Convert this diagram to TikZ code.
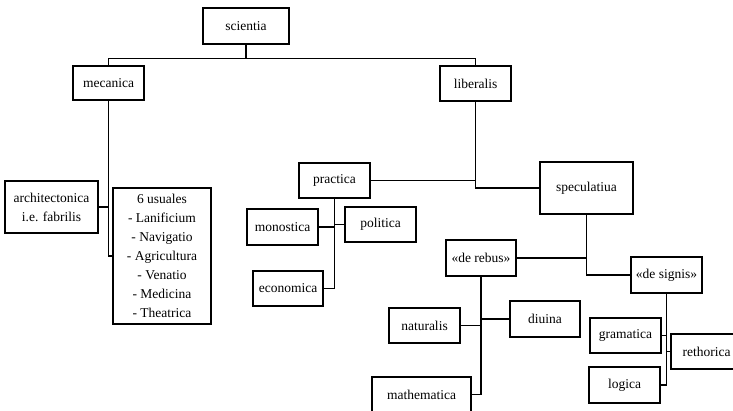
\documentclass[tikz,border=0pt]{standalone}
\usepackage{fontspec}
\setmainfont{Liberation Serif}

\begin{document}
\begin{tikzpicture}[
    x=1pt, y=-1pt,
    box/.style={draw, line width=1.3pt, minimum width=71pt, minimum height=35pt,
        inner sep=0pt, align=center, font=\fontsize{13.5}{19}\selectfont},
    link/.style={line width=1.3pt},
]

    \useasboundingbox (0,0) rectangle (733,411);
    \clip (0,0) rectangle (733,411);

    \node [box, minimum width=86pt, minimum height=36pt] (scientia) at (246,26) {scientia};

    \node [box, minimum height=34pt] (mecanica) at (108.5,83) {mecanica};
    \node [box] (liberalis) at (475.5,83.5) {liberalis};

    \node [box, minimum width=93pt, minimum height=52pt] (architectonica) at (51.5,207)
        {architectonica\\i.e. fabrilis};
    \node [box, minimum width=98pt, minimum height=136pt] (usuales) at (162,256)
        {6 usuales\\- Lanificium\\- Navigatio\\- Agricultura\\- Venatio\\- Medicina\\- Theatrica};

    \node [box] (practica) at (334.5,180.5) {practica};
    \node [box, minimum width=93pt, minimum height=52pt] (speculatiua) at (586.5,188) {speculatiua};

    \node [box, minimum height=36pt] (monostica) at (282.5,227) {monostica};
    \node [box] (politica) at (380.5,224.5) {politica};
    \node [box, minimum width=70pt] (economica) at (288,288.5) {economica};

    \node [box, minimum width=70pt, minimum height=36pt] (derebus) at (481,258) {«de rebus»};
    \node [box, minimum height=36pt] (designis) at (666.5,275) {«de signis»};

    \node [box] (naturalis) at (424.5,325.5) {naturalis};
    \node [box, minimum width=70pt, minimum height=36pt] (diuina) at (545,319) {diuina};
    \node [box, minimum width=99pt] (mathematica) at (421.5,394.5) {mathematica};

    \node [box] (gramatica) at (625.5,335.5) {gramatica};
    \node [box, minimum height=36pt] (logica) at (624.5,385) {logica};
    \node [box] (rethorica) at (706.5,351.5) {rethorica};

    % scientia
    \draw [link] (scientia.south) -- ++(0,14) coordinate (fork);
    \draw [link] (fork) -| (mecanica.north);
    \draw [link] (fork) -| (liberalis.north);

    % mecanica
    \draw [link] (mecanica.south) |- (usuales.west);
    \draw [link] (architectonica.east) -- (architectonica.east -| mecanica.south);

    % liberalis
    \draw [link] (liberalis.south) |- (speculatiua.west);
    \draw [link] (practica.east) -- (practica.east -| liberalis.south);

    % practica
    \draw [link] (practica.south) |- (economica.east);
    \draw [link] (monostica.east) -- (monostica.east -| practica.south);
    \draw [link] (politica.west) -- (politica.west -| practica.south);

    % speculatiua
    \draw [link] (speculatiua.south) |- (designis.west);
    \draw [link] (derebus.east) -- (derebus.east -| speculatiua.south);

    % de rebus
    \draw [link] (derebus.south) |- (mathematica.east);
    \draw [link] (naturalis.east) -- (naturalis.east -| derebus.south);
    \draw [link] (diuina.west) -- (diuina.west -| derebus.south);

    % de signis
    \draw [link] (designis.south) |- (logica.east);
    \draw [link] (gramatica.east) -- (gramatica.east -| designis.south);
    \draw [link] (rethorica.west) -- (rethorica.west -| designis.south);

\end{tikzpicture}
\end{document}
